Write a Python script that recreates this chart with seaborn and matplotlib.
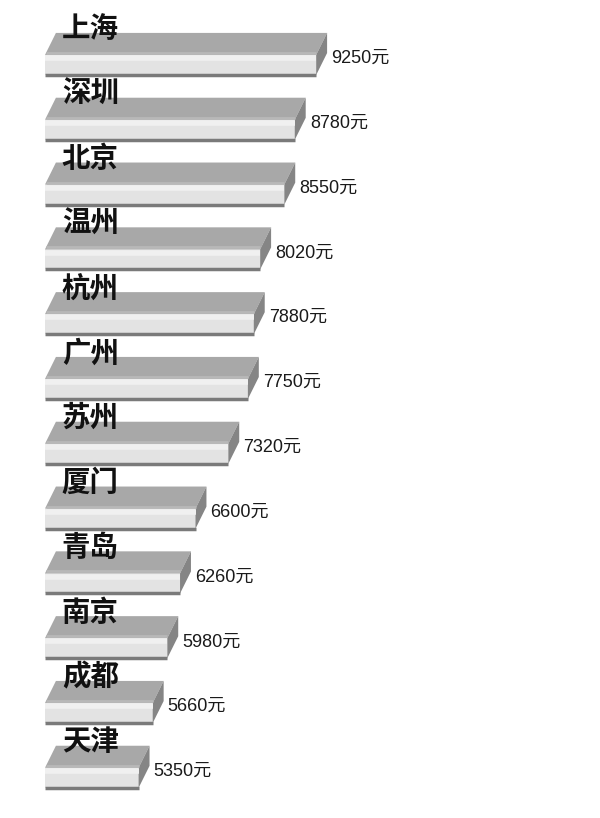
import matplotlib
matplotlib.use("Agg")
import matplotlib.pyplot as plt
from matplotlib.patches import Polygon
import seaborn as sns

# data
cities = ['上海', '深圳', '北京', '温州', '杭州', '广州', '苏州', '厦门', '青岛', '南京', '成都', '天津']
values = [9250, 8780, 8550, 8020, 7880, 7750, 7320, 6600, 6260, 5980, 5660, 5350]
unit = '元'

sns.set_style('white')
plt.rcParams['font.family'] = ['Noto Sans CJK SC', 'DejaVu Sans']

fig = plt.figure(figsize=(6, 8.18), dpi=100)
# axes starts where the bars start
ax = fig.add_axes([45 / 600, 0, 555 / 600, 1])

front_h = 0.31     # front face height (category units)
top_h = 0.34       # top face depth
dx = 240           # horizontal depth offset (value units)

sns.barplot(x=values, y=cities, orient='h', width=front_h, color='#e3e3e3',
            saturation=1, linewidth=0, ax=ax)

ax.set_xlim(3294, 15484)
ax.set_ylim(11.62, -1.003)
x0 = ax.get_xlim()[0]

for i, v in enumerate(values):
    yt = i - front_h / 2
    yb = i + front_h / 2
    # top face
    ax.add_patch(Polygon([(x0, yt), (x0 + dx, yt - top_h), (v + dx, yt - top_h), (v, yt)],
                         closed=True, facecolor='#a8a8a8', edgecolor='none', clip_on=False, zorder=2))
    # lighter band near the front edge of the top face
    ax.hlines(yt - 0.03, x0 + 20, v, color='#b8b8b8', lw=2, zorder=2.5, clip_on=False)
    # light strip on front face
    ax.hlines(yt + 0.05, x0, v, color='#f0f0f0', lw=4, zorder=3, clip_on=False)
    # right side face
    ax.add_patch(Polygon([(v, yt), (v + dx, yt - top_h), (v + dx, yb - top_h), (v, yb)],
                         closed=True, facecolor='#858585', edgecolor='none', clip_on=False, zorder=2))
    # shadow line under the bar
    ax.hlines(yb, x0, v, color='#7a7a7a', lw=2.5, zorder=3, clip_on=False)
    # city name
    ax.text(x0 + 370, i - 0.55, cities[i], fontsize=20.5, fontweight='bold', color='#111111',
            va='center', ha='left', zorder=4)
    # value label
    ax.text(v + 330, i - 0.1, f'{v}{unit}', fontsize=13, color='#1a1a1a',
            va='center', ha='left', family=['Liberation Sans', 'Noto Sans CJK SC'], zorder=4)

ax.set_xlabel('')
ax.set_ylabel('')
ax.set_xticks([])
ax.set_yticks([])
sns.despine(ax=ax, left=True, bottom=True)

fig.savefig('out.png', dpi=100, facecolor='white')
